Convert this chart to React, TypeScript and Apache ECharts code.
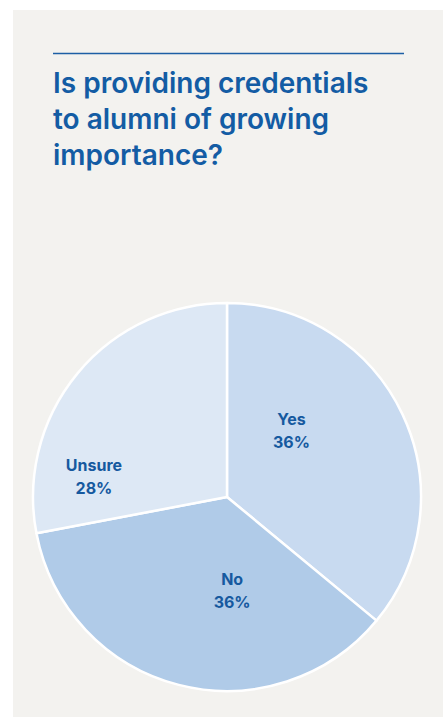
import React, { useEffect, useRef } from "react";
import * as echarts from "echarts";

const titleLines = ["Is providing credentials", "to alumni of growing", "importance?"];
const categories = ["Yes", "No", "Unsure"];
const values = [36, 36, 28];
const sliceColors = ["#c8daf0", "#b0cbe8", "#dde8f5"];
// label offsets (dx, dy) from the default inside position
const labelOffsets = [
  [-26, -24],
  [30, -3],
  [-56, 43],
];

export default function App() {
  const ref = useRef<HTMLDivElement>(null);
  useEffect(() => {
    if (!ref.current) return;
    const chart = echarts.init(ref.current, null, { renderer: "svg" });
    const blue = "#135ca4";
    chart.setOption({
      animation: false,
      backgroundColor: "#ffffff",
      title: {
        text: titleLines.join("\n"),
        left: 53,
        top: 65,
        padding: 0,
        textStyle: {
          fontFamily: "Inter",
          fontWeight: 600,
          fontSize: 28,
          lineHeight: 36,
          color: blue,
        },
      },
      graphic: [
        {
          type: "rect",
          z: -10,
          shape: { x: 13, y: 10, width: 430, height: 707 },
          style: { fill: "#f3f2ef" },
        },
        {
          type: "line",
          shape: { x1: 53, y1: 53.5, x2: 404, y2: 53.5 },
          style: { stroke: "#1d5fa5", lineWidth: 1.3 },
        },
      ],
      series: [
        {
          type: "pie",
          center: [227, 497],
          radius: [0, 194],
          startAngle: 90,
          clockwise: true,
          avoidLabelOverlap: false,
          itemStyle: { borderColor: "#ffffff", borderWidth: 2.5 },
          label: {
            show: true,
            position: "inside",
            formatter: (p: any) => `${p.name}\n${p.value}%`,
            fontFamily: "Inter",
            fontWeight: 700,
            fontSize: 16,
            lineHeight: 23,
            color: "#16599f",
          },
          labelLine: { show: false },
          emphasis: { disabled: true },
          labelLayout: (p: any) => ({
            dx: labelOffsets[p.dataIndex][0],
            dy: labelOffsets[p.dataIndex][1],
          }),
          data: categories.map((c, i) => ({
            name: c,
            value: values[i],
            itemStyle: { color: sliceColors[i] },
          })),
        },
      ],
    });
    return () => chart.dispose();
  }, []);
  return (
    <div
      ref={ref}
      style={{ position: "fixed", left: 0, top: 0, width: 443, height: 717 }}
    />
  );
}
